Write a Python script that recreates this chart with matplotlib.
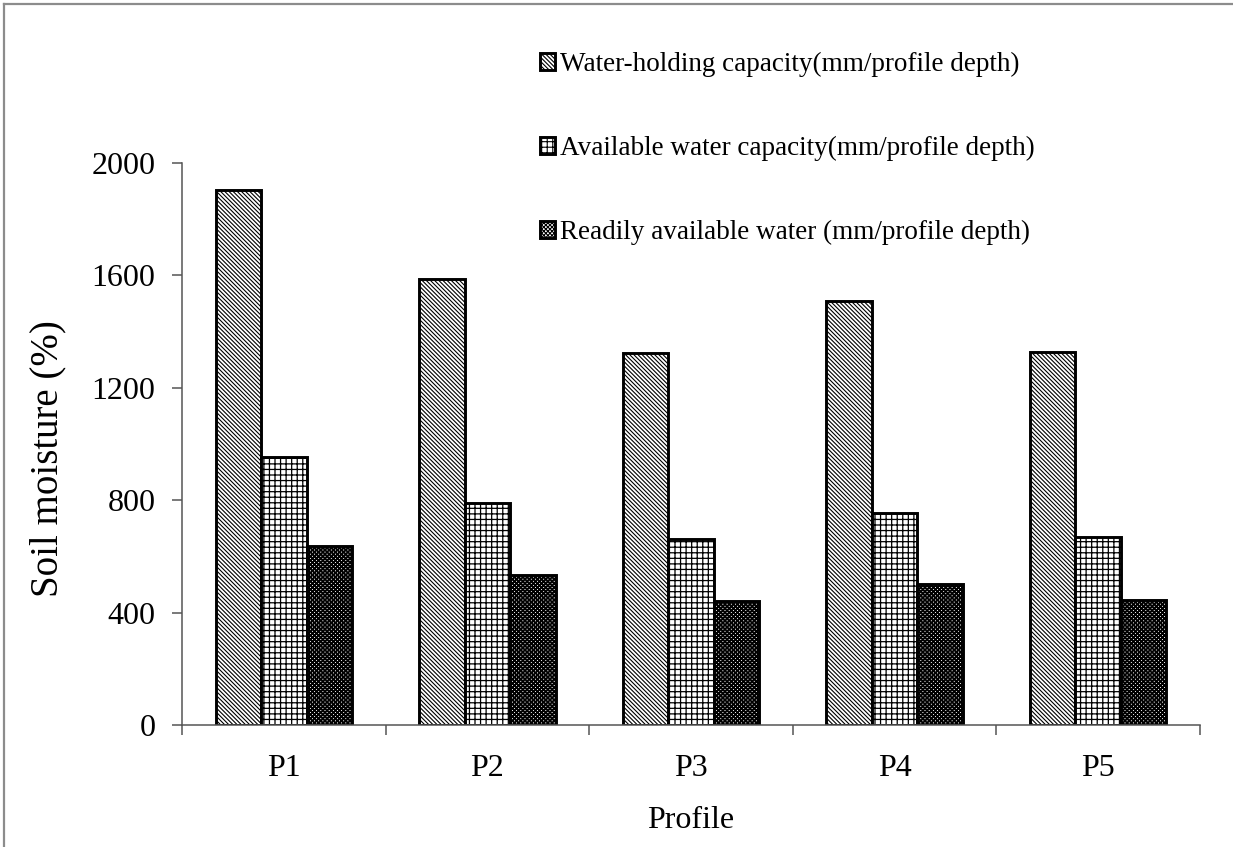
import matplotlib
matplotlib.use("Agg")
import matplotlib.pyplot as plt
from matplotlib.lines import Line2D
import numpy as np

# Datos
perfiles = ["P1", "P2", "P3", "P4", "P5"]
whc = [1905, 1587, 1323, 1509, 1328]   # Water-holding capacity
awc = [952, 791, 662, 753, 668]        # Available water capacity
raw = [638, 533, 441, 502, 445]        # Readily available water

etiquetas = ["Water-holding capacity(mm/profile depth)",
             "Available water capacity(mm/profile depth)",
             "Readily available water (mm/profile depth)"]
tramas = ["\\" * 8, "+++", "x" * 8]
grosor_trama = [0.8, 0.9, 1.3]

plt.rcParams["font.family"] = ["Liberation Serif", "DejaVu Serif"]
plt.rcParams["hatch.color"] = "black"

fig = plt.figure(figsize=(12.33, 8.47), dpi=100)
ax = fig.add_axes([182 / 1233, 1 - 725 / 847, 1018 / 1233, 562 / 847])

x = np.arange(len(perfiles))
w = 0.223
for k, (vals, lab, h) in enumerate(zip([whc, awc, raw], etiquetas, tramas)):
    with plt.rc_context({"hatch.linewidth": grosor_trama[k]}):
        ax.bar(x + (k - 1) * w, vals, w, color="white", edgecolor="black",
               linewidth=2.1, hatch=h, label=lab)

ax.set_xlim(-0.5, 4.5)
ax.set_ylim(0, 2000)
ax.set_yticks(range(0, 2001, 400))
ax.set_xticks(x)
ax.set_xticklabels(perfiles)
ax.set_xticks(np.arange(-0.5, 5, 1), minor=True)

for s in ["top", "right"]:
    ax.spines[s].set_visible(False)
for s in ["left", "bottom"]:
    ax.spines[s].set_color("#555555")
    ax.spines[s].set_linewidth(1.1)

ax.tick_params(axis="y", direction="out", length=7.2, width=1.1,
               color="#555555", labelsize=23, pad=12)
ax.tick_params(axis="x", which="major", length=0, labelsize=23, pad=21)
ax.tick_params(axis="x", which="minor", direction="out", length=7.5,
               width=1.1, color="#555555")

fig.text(48 / 1233, 1 - 459 / 847, "Soil moisture (%)", rotation=90,
         ha="center", va="center", fontsize=28)
fig.text(691 / 1233, 1 - 820 / 847, "Profile", ha="center", va="center",
         fontsize=23)

with plt.rc_context({"hatch.linewidth": 0.8}):
    leg = ax.legend(loc="upper left", bbox_to_anchor=(540 / 1233, 1 - 52 / 847),
                    bbox_transform=fig.transFigure, frameon=False, borderpad=0,
                    fontsize=19.5, handlelength=0.55, handleheight=0.6,
                    handletextpad=0.2, labelspacing=2.17, borderaxespad=0)

# Borde gris del marco
col = "#8c8c8c"
fig.add_artist(Line2D([4 / 1233, 1], [1 - 4 / 847, 1 - 4 / 847],
                      transform=fig.transFigure, color=col, lw=1.6))
fig.add_artist(Line2D([4 / 1233, 4 / 1233], [0, 1 - 4 / 847],
                      transform=fig.transFigure, color=col, lw=1.6))

fig.savefig("out.png", dpi=100)
